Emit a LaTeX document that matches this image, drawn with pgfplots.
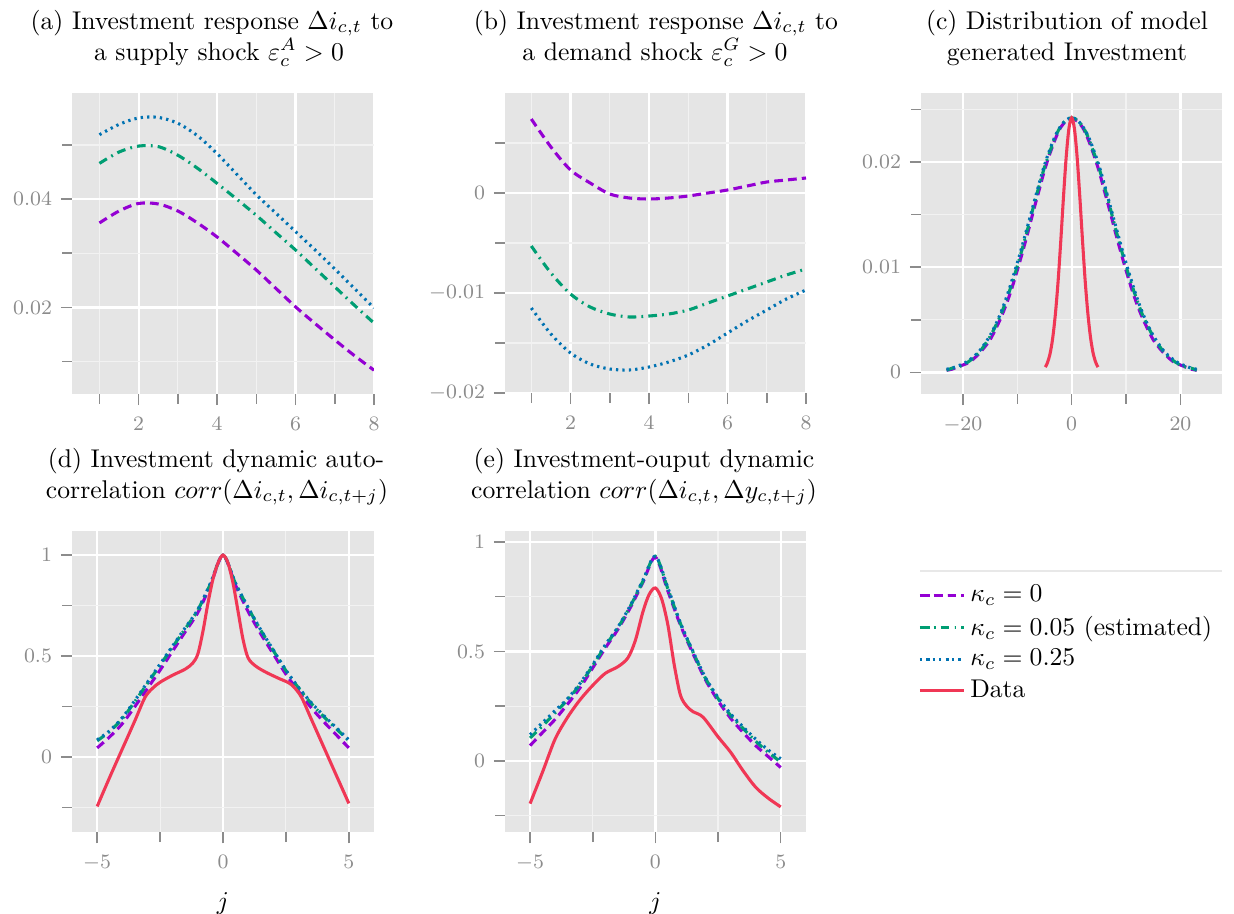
\documentclass[border=0pt]{standalone}
\usepackage{pgfplots}
\pgfplotsset{compat=1.18}
\usepackage{pgfplotstable}
\definecolor{bg}{RGB}{229,229,229}
\definecolor{mgrid}{RGB}{242,242,242}
\definecolor{tickc}{RGB}{140,140,140}
\definecolor{cpurple}{RGB}{148,0,211}
\definecolor{cgreen}{RGB}{0,158,115}
\definecolor{cblue}{RGB}{0,114,178}
\definecolor{cred}{RGB}{240,55,85}

\pgfplotsset{
  ggstyle/.style={
    scale only axis,
    axis background/.style={fill=bg},
    axis line style={draw=none},
    grid=both,
    major grid style={white, line width=0.9pt},
    minor grid style={mgrid, line width=0.45pt},
    tick align=outside,
    xtick pos=left, ytick pos=left,
    major tick length=4.3pt, minor tick length=3.8pt,
    tick style={tickc, line width=0.6pt},
    tick label style={font=\footnotesize, text=tickc},
    xticklabel style={yshift=-1.2pt},
    scaled ticks=false,
  },
  purp/.style={cpurple, line width=1.2pt, dash pattern=on 3.4pt off 2pt, smooth},
  gree/.style={cgreen, line width=1.2pt, dash pattern=on 3.4pt off 2pt on 0.7pt off 2pt, smooth},
  blu/.style={cblue, line width=1.2pt, dash pattern=on 0.9pt off 1.6pt, smooth},
  re/.style={cred, line width=1.2pt, smooth},
}

\pgfplotstableread{
x g b p
-23 0.0002 0.0003 0.0002
-22 0.0004 0.0004 0.0003
-21 0.0005 0.0006 0.0005
-20 0.0007 0.0008 0.0007
-19 0.0010 0.0011 0.0009
-18 0.0014 0.0015 0.0013
-17 0.0019 0.0020 0.0018
-16 0.0026 0.0027 0.0024
-15 0.0034 0.0035 0.0031
-14 0.0044 0.0045 0.0041
-13 0.0055 0.0057 0.0052
-12 0.0069 0.0071 0.0065
-11 0.0084 0.0087 0.0080
-10 0.0101 0.0104 0.0097
-9 0.0119 0.0122 0.0115
-8 0.0138 0.0141 0.0134
-7 0.0158 0.0160 0.0154
-6 0.0177 0.0179 0.0173
-5 0.0195 0.0197 0.0192
-4 0.0210 0.0212 0.0208
-3 0.0224 0.0225 0.0222
-2 0.0234 0.0234 0.0233
-1 0.0240 0.0240 0.0239
0 0.0242 0.0242 0.0241
1 0.0240 0.0240 0.0239
2 0.0234 0.0234 0.0233
3 0.0224 0.0225 0.0222
4 0.0210 0.0212 0.0208
5 0.0195 0.0197 0.0192
6 0.0177 0.0179 0.0173
7 0.0158 0.0160 0.0154
8 0.0138 0.0141 0.0134
9 0.0119 0.0122 0.0115
10 0.0101 0.0104 0.0097
11 0.0084 0.0087 0.0080
12 0.0069 0.0071 0.0065
13 0.0055 0.0057 0.0052
14 0.0044 0.0045 0.0041
15 0.0034 0.0035 0.0031
16 0.0026 0.0027 0.0024
17 0.0019 0.0020 0.0018
18 0.0014 0.0015 0.0013
19 0.0010 0.0011 0.0009
20 0.0007 0.0008 0.0007
21 0.0005 0.0006 0.0005
22 0.0004 0.0004 0.0003
23 0.0002 0.0003 0.0002
}\distC

\begin{document}
\begin{tikzpicture}
\path[use as bounding box] (0,0) rectangle (481.26pt,-356.07pt);

% (a)
\begin{axis}[ggstyle, at={(28.08pt,-36.27pt)}, anchor=north west,
  width=117.78pt, height=117.39pt,
  xmin=0.3, xmax=8, ymin=0.004, ymax=0.0596,
  xtick={2,4,6,8}, minor xtick={1,3,5,7},
  ytick={0.02,0.04}, yticklabels={$0.02$,$0.04$}, minor ytick={0.01,0.03,0.05}]
\addplot[purp] coordinates {(1,0.0356)(1.5,0.0378)(2,0.0392)(2.5,0.0391)(3,0.0378)(3.5,0.0356)(4,0.0330)(4.5,0.0300)(5,0.0269)(5.5,0.0235)(6,0.0201)(6.5,0.0170)(7,0.0140)(7.5,0.0111)(8,0.0084)};
\addplot[gree] coordinates {(1,0.0466)(1.5,0.0487)(2,0.0498)(2.5,0.0497)(3,0.0481)(3.5,0.0457)(4,0.0429)(4.5,0.0400)(5,0.0370)(5.5,0.0338)(6,0.0306)(6.5,0.0272)(7,0.0238)(7.5,0.0204)(8,0.0171)};
\addplot[blu] coordinates {(1,0.0519)(1.5,0.0538)(2,0.0550)(2.5,0.0551)(3,0.0540)(3.5,0.0517)(4,0.0484)(4.5,0.0446)(5,0.0408)(5.5,0.0374)(6,0.0340)(6.5,0.0306)(7,0.0271)(7.5,0.0235)(8,0.0199)};
\end{axis}

% (b)
\begin{axis}[ggstyle, at={(196.95pt,-36.27pt)}, anchor=north west,
  width=117.39pt, height=117.0pt,
  xmin=0.33, xmax=8, ymin=-0.02, ymax=0.01,
  xtick={2,4,6,8}, minor xtick={1,3,5,7},
  ytick={-0.02,-0.01,0}, yticklabels={$-0.02$,$-0.01$,$0$}, minor ytick={-0.015,-0.005,0.005}]
\addplot[purp] coordinates {(1,0.0074)(1.5,0.0046)(2,0.0023)(2.5,0.0010)(3,-0.0001)(3.5,-0.0005)(4,-0.0006)(4.5,-0.0005)(5,-0.0003)(5.5,0)(6,0.0003)(6.5,0.0007)(7,0.0011)(7.5,0.0013)(8,0.0015)};
\addplot[gree] coordinates {(1,-0.0053)(1.5,-0.0080)(2,-0.0101)(2.5,-0.0114)(3,-0.0121)(3.5,-0.0124)(4,-0.0123)(4.5,-0.0121)(5,-0.0117)(5.5,-0.0110)(6,-0.0103)(6.5,-0.0096)(7,-0.0089)(7.5,-0.0082)(8,-0.0076)};
\addplot[blu] coordinates {(1,-0.0115)(1.5,-0.0141)(2,-0.0160)(2.5,-0.0171)(3,-0.0176)(3.5,-0.0177)(4,-0.0174)(4.5,-0.0169)(5,-0.0162)(5.5,-0.0152)(6,-0.0140)(6.5,-0.0128)(7,-0.0117)(7.5,-0.0106)(8,-0.0097)};
\end{axis}

% (c)
\begin{axis}[ggstyle, at={(359.19pt,-36.27pt)}, anchor=north west,
  width=117.5pt, height=117.4pt,
  xmin=-27.7, xmax=27.7, ymin=-0.00206, ymax=0.02656,
  xtick={-20,0,20}, minor xtick={-10,10},
  ytick={0,0.01,0.02}, yticklabels={$0$,$0.01$,$0.02$}, minor ytick={0.005,0.015,0.025}]
\addplot[purp] table[x=x,y=p] {\distC};
\addplot[gree] table[x=x,y=g] {\distC};
\addplot[blu] table[x=x,y=b] {\distC};
\addplot[re] coordinates {(-4.85,0.0005)(-4.5,0.00085)(-4,0.0017)(-3.5,0.0032)(-3,0.0055)(-2.5,0.0086)(-2,0.0125)(-1.5,0.0167)(-1,0.0205)(-0.5,0.0232)(0,0.0242)(0.5,0.0232)(1,0.0205)(1.5,0.0167)(2,0.0125)(2.5,0.0086)(3,0.0055)(3.5,0.0032)(4,0.0017)(4.5,0.00085)(4.85,0.0005)};
\end{axis}

% (d)
\begin{axis}[ggstyle, at={(28.08pt,-207.09pt)}, anchor=north west,
  width=117.78pt, height=117.5pt,
  xmin=-6, xmax=6, ymin=-0.373, ymax=1.119,
  xtick={-5,0,5}, minor xtick={-2.5,2.5},
  ytick={0,0.5,1}, minor ytick={-0.25,0.25,0.75},
  xlabel={$j$}, xlabel style={font=\normalsize, yshift=-1.6pt}]
\addplot[purp] coordinates {(-5,0.045)(-4.5,0.10)(-4,0.165)(-3.5,0.25)(-3,0.34)(-2.5,0.43)(-2,0.525)(-1.5,0.62)(-1,0.715)(-0.5,0.85)(0,1)(0.5,0.85)(1,0.72)(1.5,0.61)(2,0.51)(2.5,0.41)(3,0.325)(3.5,0.245)(4,0.175)(4.5,0.11)(5,0.045)};
\addplot[gree] coordinates {(-5,0.08)(-4.5,0.127)(-4,0.19)(-3.5,0.275)(-3,0.365)(-2.5,0.455)(-2,0.545)(-1.5,0.635)(-1,0.728)(-0.5,0.857)(0,1)(0.5,0.858)(1,0.738)(1.5,0.628)(2,0.527)(2.5,0.428)(3,0.342)(3.5,0.266)(4,0.2)(4.5,0.14)(5,0.08)};
\addplot[blu] coordinates {(-5,0.085)(-4.5,0.13)(-4,0.195)(-3.5,0.28)(-3,0.37)(-2.5,0.46)(-2,0.55)(-1.5,0.64)(-1,0.73)(-0.5,0.86)(0,1)(0.5,0.86)(1,0.74)(1.5,0.63)(2,0.53)(2.5,0.43)(3,0.345)(3.5,0.27)(4,0.205)(4.5,0.145)(5,0.085)};
\addplot[re] coordinates {(-5,-0.245)(-4.5,-0.10)(-4,0.04)(-3.5,0.18)(-3.1,0.295)(-2.8,0.34)(-2.5,0.37)(-2,0.405)(-1.5,0.435)(-1.2,0.465)(-1,0.51)(-0.8,0.62)(-0.6,0.76)(-0.4,0.88)(-0.2,0.96)(0,1.0)(0.2,0.96)(0.4,0.86)(0.6,0.72)(0.8,0.58)(1,0.49)(1.3,0.45)(1.7,0.42)(2.2,0.39)(2.7,0.36)(3.1,0.30)(3.5,0.19)(4,0.05)(4.5,-0.09)(5,-0.23)};
\end{axis}

% (e)
\begin{axis}[ggstyle, at={(196.95pt,-207.09pt)}, anchor=north west,
  width=117.3pt, height=117.5pt,
  xmin=-6, xmax=6, ymin=-0.326, ymax=1.05,
  xtick={-5,0,5}, minor xtick={-2.5,2.5},
  ytick={0,0.5,1}, minor ytick={-0.25,0.25,0.75},
  xlabel={$j$}, xlabel style={font=\normalsize, yshift=-1.6pt},
  legend style={at={(1.347,0.855)}, anchor=north west, draw=none, fill=none,
    font=\normalsize, cells={anchor=west}, row sep=0pt}]
\addplot[purp] coordinates {(-5,0.07)(-4.5,0.13)(-4,0.19)(-3.5,0.26)(-3,0.335)(-2.5,0.425)(-2,0.515)(-1.5,0.60)(-1,0.70)(-0.5,0.815)(0,0.93)(0.5,0.775)(1,0.62)(1.5,0.49)(2,0.37)(2.5,0.275)(3,0.195)(3.5,0.13)(4,0.07)(4.5,0.02)(5,-0.03)};
\addlegendentry{$\kappa_c=0$}
\addplot[gree] coordinates {(-5,0.105)(-4.5,0.16)(-4,0.22)(-3.5,0.28)(-3,0.35)(-2.5,0.435)(-2,0.525)(-1.5,0.607)(-1,0.707)(-0.5,0.82)(0,0.935)(0.5,0.785)(1,0.627)(1.5,0.497)(2,0.377)(2.5,0.285)(3,0.208)(3.5,0.148)(4,0.09)(4.5,0.04)(5,-0.005)};
\addlegendentry{$\kappa_c=0.05$ (estimated)}
\addplot[blu] coordinates {(-5,0.12)(-4.5,0.175)(-4,0.23)(-3.5,0.285)(-3,0.355)(-2.5,0.44)(-2,0.53)(-1.5,0.61)(-1,0.71)(-0.5,0.825)(0,0.935)(0.5,0.79)(1,0.63)(1.5,0.50)(2,0.38)(2.5,0.29)(3,0.215)(3.5,0.155)(4,0.10)(4.5,0.05)(5,0.01)};
\addlegendentry{$\kappa_c=0.25$}
\addplot[re] coordinates {(-5,-0.195)(-4.5,-0.05)(-4,0.10)(-3.5,0.20)(-3,0.28)(-2.5,0.345)(-2,0.40)(-1.5,0.43)(-1.1,0.47)(-0.8,0.55)(-0.5,0.68)(-0.25,0.76)(0,0.79)(0.25,0.74)(0.5,0.62)(0.75,0.44)(1,0.30)(1.25,0.25)(1.5,0.225)(1.9,0.20)(2.5,0.11)(3,0.04)(3.5,-0.045)(4,-0.12)(4.5,-0.17)(5,-0.21)};
\addlegendentry{Data}
\end{axis}

\begin{scope}[x=0.39pt,y=-0.39pt]
\node[anchor=base,inner sep=0pt] at (212,29) {(a) Investment response $\Delta i_{c,t}$ to};
\node[anchor=base,inner sep=0pt] at (219,60) {a supply shock $\varepsilon_c^A>0$};
\node[anchor=base,inner sep=0pt] at (656,29) {(b) Investment response $\Delta i_{c,t}$ to};
\node[anchor=base,inner sep=0pt] at (655,60) {a demand shock $\varepsilon_c^G>0$};
\node[anchor=base,inner sep=0pt] at (1067,29) {(c) Distribution of model};
\node[anchor=base,inner sep=0pt] at (1067,60) {generated Investment};
\node[anchor=base,inner sep=0pt] at (216,467) {(d) Investment dynamic auto-};
\node[anchor=base,inner sep=0pt] at (217,498) {correlation $corr(\Delta i_{c,t},\Delta i_{c,t+j})$};
\node[anchor=base,inner sep=0pt] at (644,467) {(e) Investment-ouput dynamic};
\node[anchor=base,inner sep=0pt] at (644,498) {correlation $corr(\Delta i_{c,t},\Delta y_{c,t+j})$};
\draw[gray!18, line width=0.5pt] (920,571) -- (1222,571);
\end{scope}
\end{tikzpicture}
\end{document}
